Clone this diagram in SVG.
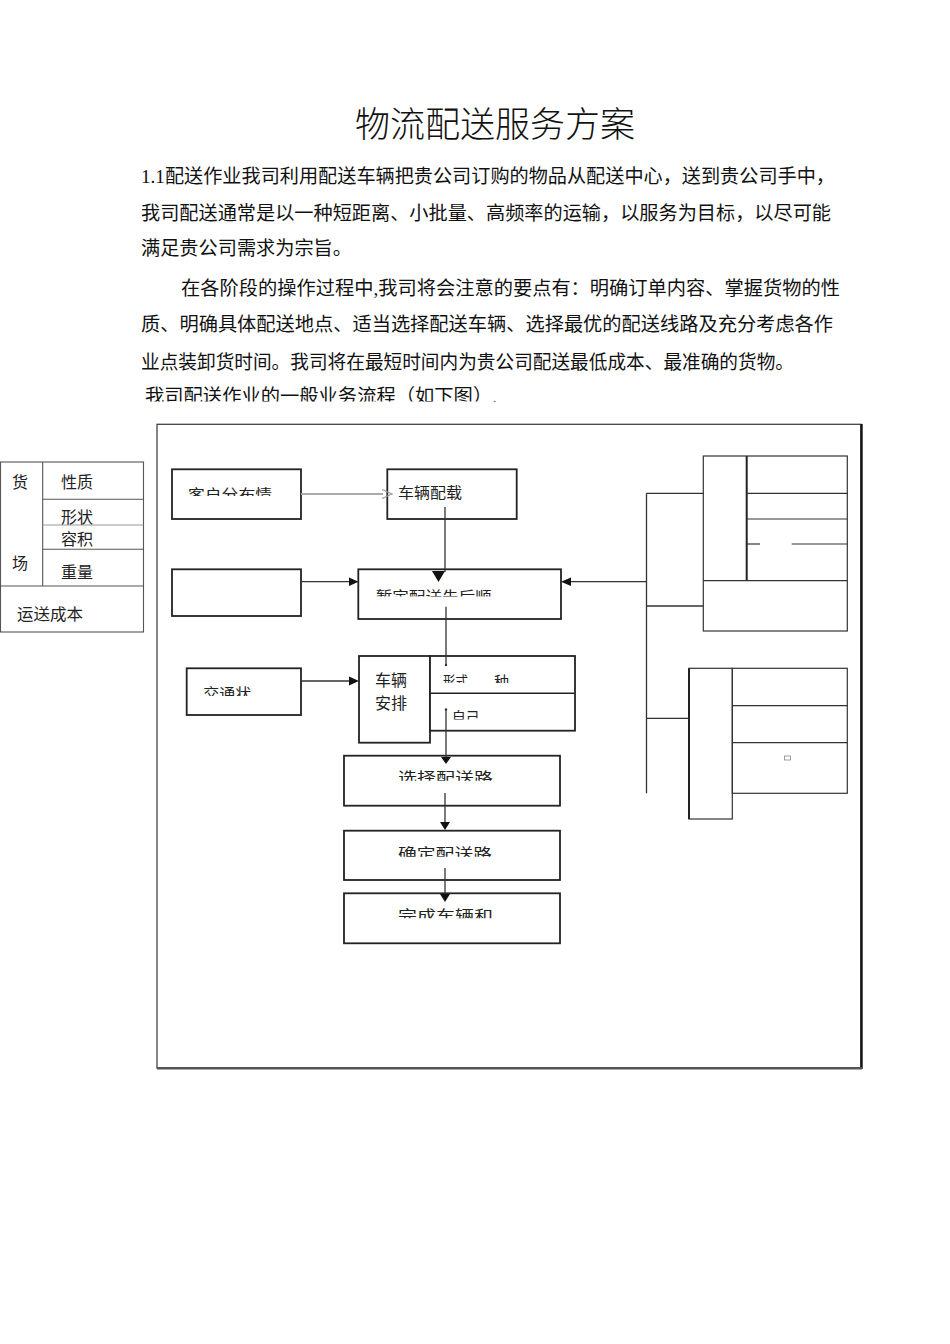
<svg xmlns="http://www.w3.org/2000/svg" width="950" height="1344" viewBox="0 0 950 1344">
<style>
.body{font-family:"Liberation Serif","Noto Sans CJK SC",serif;font-size:19px;fill:#111}
.title{font-family:"Liberation Serif","Noto Sans CJK SC",serif;font-size:35px;font-weight:300;fill:#111}
.lbl{font-family:"Noto Sans CJK SC","Noto Sans",sans-serif;font-size:15px;fill:#222}
.tbl{font-family:"Noto Sans CJK SC","Noto Sans",sans-serif;font-size:16px;fill:#222}
.box{fill:#fff;stroke:#222;stroke-width:1.8}
.thin{fill:none;stroke:#333;stroke-width:1.2}
.ln{fill:none;stroke:#333;stroke-width:1.3}
.head{fill:#111;stroke:none}
</style>
<defs>
<clipPath id="c1" clipPathUnits="userSpaceOnUse"><rect x="180" y="470" width="110" height="26"/></clipPath>
<clipPath id="c2" clipPathUnits="userSpaceOnUse"><rect x="365" y="575" width="180" height="21.5"/></clipPath>
<clipPath id="c3" clipPathUnits="userSpaceOnUse"><rect x="195" y="672" width="90" height="24"/></clipPath>
<clipPath id="c4" clipPathUnits="userSpaceOnUse"><rect x="436" y="660" width="130" height="23"/></clipPath>
<clipPath id="c5" clipPathUnits="userSpaceOnUse"><rect x="448" y="698" width="110" height="21.5"/></clipPath>
<clipPath id="c6" clipPathUnits="userSpaceOnUse"><rect x="390" y="760" width="160" height="20.7"/></clipPath>
<clipPath id="c7" clipPathUnits="userSpaceOnUse"><rect x="390" y="835" width="160" height="21.7"/></clipPath>
<clipPath id="c8" clipPathUnits="userSpaceOnUse"><rect x="390" y="897" width="160" height="21.3"/></clipPath>
<clipPath id="c9" clipPathUnits="userSpaceOnUse"><rect x="130" y="375" width="400" height="26.5"/></clipPath>
</defs>
<rect width="950" height="1344" fill="#fff"/>

<g id="text-block">
<text class="title" x="355" y="137" textLength="280" lengthAdjust="spacingAndGlyphs">物流配送服务方案</text>
<text class="body" x="141" y="183" textLength="694" lengthAdjust="spacingAndGlyphs">1.1配送作业我司利用配送车辆把贵公司订购的物品从配送中心，送到贵公司手中，</text>
<text class="body" x="141" y="220" textLength="690" lengthAdjust="spacingAndGlyphs">我司配送通常是以一种短距离、小批量、高频率的运输，以服务为目标，以尽可能</text>
<text class="body" x="141" y="255" textLength="211" lengthAdjust="spacingAndGlyphs">满足贵公司需求为宗旨。</text>
<text class="body" x="181" y="295" textLength="659" lengthAdjust="spacingAndGlyphs">在各阶段的操作过程中,我司将会注意的要点有：明确订单内容、掌握货物的性</text>
<text class="body" x="141" y="331" textLength="692" lengthAdjust="spacingAndGlyphs">质、明确具体配送地点、适当选择配送车辆、选择最优的配送线路及充分考虑各作</text>
<text class="body" x="141" y="369" textLength="653" lengthAdjust="spacingAndGlyphs">业点装卸货时间。我司将在最短时间内为贵公司配送最低成本、最准确的货物。</text>
<text class="body" x="145" y="403" textLength="352" lengthAdjust="spacingAndGlyphs" clip-path="url(#c9)">我司配送作业的一般业务流程（如下图）.</text>
</g>

<g id="cargo-table">
<rect x="0.5" y="462" width="143" height="170" fill="none" stroke="#555" stroke-width="1.1"/>
<line x1="42.7" y1="462" x2="42.7" y2="586" stroke="#555" stroke-width="1.1"/>
<line x1="42.7" y1="499.3" x2="143.5" y2="499.3" stroke="#555" stroke-width="1.1"/>
<line x1="42.7" y1="525" x2="143.5" y2="525" stroke="#999" stroke-width="1.2"/>
<line x1="42.7" y1="549.3" x2="143.5" y2="549.3" stroke="#555" stroke-width="1.1"/>
<line x1="0.5" y1="586" x2="143.5" y2="586" stroke="#555" stroke-width="1.1"/>
<text class="tbl" x="12" y="488">货</text>
<text class="tbl" x="12" y="569">场</text>
<text class="tbl" x="61" y="488">性质</text>
<text class="tbl" x="61" y="523">形状</text>
<text class="tbl" x="61" y="545">容积</text>
<text class="tbl" x="61" y="578">重量</text>
<text class="tbl" x="17" y="620" textLength="66" lengthAdjust="spacingAndGlyphs">运送成本</text>
</g>

<g id="frame">
<rect x="157" y="424.3" width="704" height="643.7" fill="none" stroke="#444" stroke-width="1.3"/>
<line x1="861.5" y1="424" x2="861.5" y2="1069" stroke="#111" stroke-width="2.4"/>
<line x1="157" y1="1068.3" x2="862" y2="1068.3" stroke="#555" stroke-width="2.6"/>
</g>

<g id="node-customer">
<rect class="box" x="172" y="469.3" width="129" height="49.7"/>
<text class="lbl" x="188" y="499.5" textLength="84" lengthAdjust="spacingAndGlyphs" clip-path="url(#c1)">客户分布情</text>
</g>
<g id="node-loading">
<rect class="box" x="387.3" y="469.3" width="129.4" height="49.7"/>
<text class="lbl" x="398" y="498" textLength="64" lengthAdjust="spacingAndGlyphs">车辆配载</text>
</g>
<g id="node-blank">
<rect class="box" x="172" y="569.3" width="129" height="46.7"/>
</g>
<g id="node-order">
<rect class="box" x="358.3" y="569.3" width="202.7" height="49.7"/>
<text class="lbl" x="375.7" y="601.5" textLength="116" lengthAdjust="spacingAndGlyphs" clip-path="url(#c2)">暂定配送先后顺</text>
</g>
<g id="node-traffic">
<rect class="box" x="186.7" y="668.3" width="114.3" height="46.7"/>
<text class="lbl" x="203.3" y="699" textLength="48" lengthAdjust="spacingAndGlyphs" clip-path="url(#c3)">交通状</text>
</g>
<g id="node-vehicle">
<rect class="box" x="359" y="656" width="71" height="86.7"/>
<text class="tbl" x="375" y="685.5">车辆</text>
<text class="tbl" x="375" y="708.5">安排</text>
</g>
<g id="node-vehicle-options">
<rect class="box" x="430" y="656" width="145" height="74.7"/>
<line x1="430" y1="693.3" x2="575" y2="693.3" stroke="#222" stroke-width="1.4"/>
<g clip-path="url(#c4)">
<text class="lbl" x="443" y="687" font-size="14" textLength="25" lengthAdjust="spacingAndGlyphs">形式</text>
<text class="lbl" x="494" y="687" font-size="14">种</text>
</g>
<text class="lbl" x="451.7" y="723" font-size="14" textLength="28" lengthAdjust="spacingAndGlyphs" clip-path="url(#c5)">自己</text>
</g>
<g id="node-route-select">
<rect class="box" x="344" y="755.7" width="216" height="50"/>
<text class="lbl" x="398" y="783" textLength="95" lengthAdjust="spacingAndGlyphs" clip-path="url(#c6)">选择配送路</text>
</g>
<g id="node-route-confirm">
<rect class="box" x="344" y="830.7" width="216" height="49.3"/>
<text class="lbl" x="398" y="858.5" textLength="94" lengthAdjust="spacingAndGlyphs" clip-path="url(#c7)">确定配送路</text>
</g>
<g id="node-complete">
<rect class="box" x="344" y="893.3" width="216" height="50"/>
<text class="lbl" x="398" y="921" textLength="95" lengthAdjust="spacingAndGlyphs" clip-path="url(#c8)">完成车辆和</text>
</g>

<g id="node-right-upper">
<rect class="thin" x="703.3" y="456" width="144" height="175"/>
<line x1="746.7" y1="456" x2="746.7" y2="580.7" stroke="#222" stroke-width="2"/>
<line x1="703.3" y1="580.7" x2="847.3" y2="580.7" class="thin"/>
<line x1="746.7" y1="493.3" x2="847.3" y2="493.3" class="thin"/>
<line x1="746.7" y1="519" x2="847.3" y2="519" class="thin"/>
<line x1="746.7" y1="544" x2="760" y2="544" class="thin"/>
<line x1="791.7" y1="544" x2="847.3" y2="544" class="thin"/>
</g>
<g id="node-right-lower">
<rect class="thin" x="689" y="668.3" width="43.3" height="150.7"/>
<line x1="689" y1="668.3" x2="689" y2="819" stroke="#222" stroke-width="2"/>
<rect class="thin" x="732.3" y="668.3" width="115" height="125"/>
<line x1="732.3" y1="705.7" x2="847.3" y2="705.7" class="thin"/>
<line x1="732.3" y1="742.7" x2="847.3" y2="742.7" class="thin"/>
<rect x="784.5" y="756" width="6" height="4" fill="none" stroke="#888" stroke-width="0.8"/>
</g>

<g id="connectors">
<line x1="301" y1="494" x2="383" y2="494" stroke="#aaa" stroke-width="2"/>
<polyline points="382,489.5 392,494 382,498.5" fill="none" stroke="#999" stroke-width="1.2"/>
<line class="ln" x1="445" y1="507" x2="445" y2="572"/>
<polygon class="head" points="432,571 445,571 438.5,582"/>
<line class="ln" x1="301" y1="581.7" x2="350" y2="581.7"/>
<polygon class="head" points="349,577.5 358.5,581.7 349,586"/>
<line class="ln" x1="646.5" y1="581.7" x2="570" y2="581.7"/>
<polygon class="head" points="561,581.7 571,577.5 571,586"/>
<line class="ln" x1="446" y1="606.7" x2="446" y2="665"/>
<circle cx="446" cy="665" r="1.2" fill="#333"/>
<line class="ln" x1="301" y1="681" x2="350" y2="681"/>
<polygon class="head" points="349,676.5 359,681 349,685.5"/>
<line class="ln" x1="446" y1="709.5" x2="446" y2="758"/>
<circle cx="446" cy="709.5" r="1.2" fill="#333"/>
<polygon class="head" points="441,757 451,757 446,764"/>
<line class="ln" x1="445" y1="793" x2="445" y2="823"/>
<polygon class="head" points="440,822 450,822 445,830"/>
<line class="ln" x1="445" y1="868" x2="445" y2="895"/>
<polygon class="head" points="440,894 450,894 445,902"/>
<line class="ln" x1="646.5" y1="493.3" x2="646.5" y2="793.3"/>
<line class="ln" x1="646.5" y1="493.3" x2="703.3" y2="493.3"/>
<line class="ln" x1="646.5" y1="606" x2="703.3" y2="606"/>
<line class="ln" x1="646.5" y1="718.3" x2="689" y2="718.3"/>
</g>
</svg>
